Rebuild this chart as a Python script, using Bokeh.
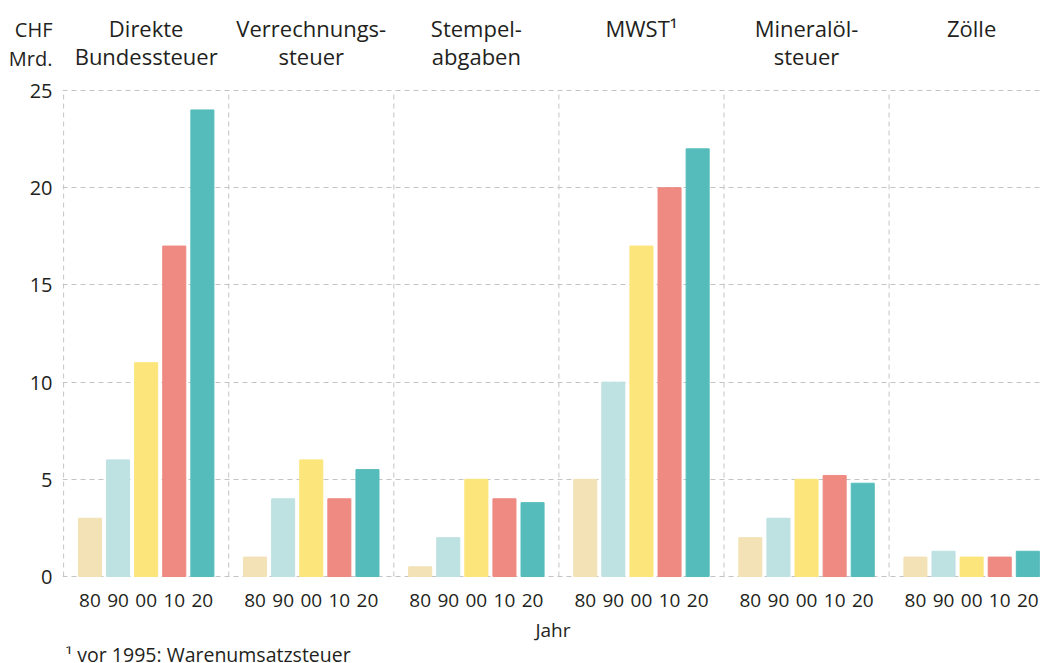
from bokeh.plotting import figure
from bokeh.layouts import column
from bokeh.models import ColumnDataSource, Range1d, FixedTicker
from bokeh.core.properties import value
from bokeh.embed import file_html
from bokeh.resources import INLINE

# ---------------- data ----------------
title_line1 = ["Direkte", "Verrechnungs-", "Stempel-", "MWST¹", "Mineralöl-", "Zölle"]
title_line2 = ["Bundessteuer", "steuer", "abgaben", "", "steuer", ""]
years = ["80", "90", "00", "10", "20"]
direkte = [3, 6, 11, 17, 24]
verrechnung = [1, 4, 6, 4, 5.5]
stempel = [0.5, 2, 5, 4, 3.8]
mwst = [5, 10, 17, 20, 22]
mineraloel = [2, 3, 5, 5.2, 4.8]
zoelle = [1, 1.3, 1, 1, 1.3]
y_ticks = [0, 5, 10, 15, 20, 25]
unit_label = ["CHF", "Mrd."]
x_label = "Jahr"
footnote = "¹ vor 1995: Warenumsatzsteuer"
year_colors = ["#F2E2B6", "#BEE1E2", "#FCE57A", "#EE8A82", "#55BCBB"]

series = [direkte, verrechnung, stempel, mwst, mineraloel, zoelle]

# ---------------- layout constants ----------------
FONT = "Open Sans"
TXT = "#231f20"
PANEL = 5.875          # width of one panel in bar-step units
BAR_W = 0.82
GRID = "#c4c4c4"
W = 1043
LEFT = 62               # px left of plotting frame
MAIN_H = 646            # main figure height (page px 0..646)
FRAME_BOTTOM = 577      # page px of frame bottom
BOT_H = 663 - MAIN_H    # footnote strip height
X0, X1 = -0.04, 34.87   # x range of the frame
UPX = (X1 - X0) / (W - LEFT)   # data units per pixel (x)
PXU = 19.44             # pixels per y unit
Y0 = -0.05
Y1 = Y0 + FRAME_BOTTOM / PXU
TITLE_SHIFT = 9.5       # rendering offset of alphabetic baseline (22px)


def page_y(py):
    """data y for a page pixel row inside the main figure"""
    return Y0 + (FRAME_BOTTOM - py) / PXU


xs, tops, cols, labels = [], [], [], []
for i, vals in enumerate(series):
    center = i * PANEL + PANEL / 2
    for j, v in enumerate(vals):
        xs.append(center + (j - 2))
        tops.append(v)
        cols.append(year_colors[j])
        labels.append(years[j])

src = ColumnDataSource(dict(x=xs, top=tops, color=cols, year=labels))

# ---------------- main chart ----------------
p = figure(width=W, height=MAIN_H, output_backend="svg", toolbar_location=None,
           title=None, x_range=Range1d(X0, X1), y_range=Range1d(Y0, Y1),
           min_border_left=LEFT, min_border_right=0, min_border_top=0,
           min_border_bottom=MAIN_H - FRAME_BOTTOM)
p.outline_line_color = None

p.vbar(x="x", top="top", bottom=0, width=BAR_W, color="color", source=src)

# grids: horizontal dashed lines, vertical dashed panel separators (0..25 only)
p.ygrid.ticker = FixedTicker(ticks=y_ticks)
p.ygrid.grid_line_color = GRID
p.ygrid.grid_line_dash = "5 4"
p.xgrid.visible = False
bounds = [i * PANEL for i in range(len(series))]
p.segment(x0=bounds, y0=[y_ticks[0]] * len(bounds), x1=bounds,
          y1=[y_ticks[-1]] * len(bounds), line_color=GRID, line_dash="5 4",
          line_width=1)

# y axis (numbers + unit label "CHF / Mrd." above them)
y_unit = [round(page_y(29.5), 3), round(page_y(57.8), 3)]
p.yaxis.ticker = FixedTicker(ticks=y_ticks + y_unit)
p.yaxis.major_label_overrides = {y_unit[0]: unit_label[0], y_unit[1]: unit_label[1]}
p.yaxis.axis_line_color = None
p.yaxis.major_tick_line_color = None
p.yaxis.minor_tick_line_color = None
p.yaxis.major_label_text_font = FONT
p.yaxis.major_label_text_font_size = "20px"
p.yaxis.major_label_text_color = TXT
p.yaxis.major_label_standoff = 4

# x axis
p.xaxis.ticker = FixedTicker(ticks=xs)
p.xaxis.major_label_overrides = {x: l for x, l in zip(xs, labels)}
p.xaxis.axis_line_color = None
p.xaxis.major_tick_line_color = None
p.xaxis.minor_tick_line_color = None
p.xaxis.major_label_text_font = FONT
p.xaxis.major_label_text_font_size = "19px"
p.xaxis.major_label_text_color = TXT
p.xaxis.major_label_standoff = 10
p.xaxis.axis_label = x_label
p.xaxis.axis_label_text_font = FONT
p.xaxis.axis_label_text_font_size = "19px"
p.xaxis.axis_label_text_font_style = "normal"
p.xaxis.axis_label_text_color = TXT
p.xaxis.axis_label_standoff = 7

# panel titles
centers = [i * PANEL + PANEL / 2 for i in range(len(series))]
p.text(x=centers, y=[page_y(36.7 - TITLE_SHIFT)] * len(centers), text=title_line1,
       text_font=value(FONT), text_font_size="22px", text_color=TXT,
       text_align="center", text_baseline="alphabetic")
p.text(x=centers, y=[page_y(65.0 - TITLE_SHIFT)] * len(centers), text=title_line2,
       text_font=value(FONT), text_font_size="22px", text_color=TXT,
       text_align="center", text_baseline="alphabetic")

# ---------------- footnote strip ----------------
bot = figure(width=W, height=BOT_H, output_backend="svg", toolbar_location=None,
             title=None, x_range=Range1d(X0, X1), y_range=Range1d(663, MAIN_H),
             x_axis_location=None, y_axis_location=None,
             min_border_left=LEFT, min_border_right=0, min_border_top=0,
             min_border_bottom=0)
bot.grid.visible = False
bot.outline_line_color = None
bot.text(x=[X0 + 3 * UPX], y=[662 - 8.4], text=[footnote],
         text_font=value(FONT), text_font_size="19.5px", text_color=TXT,
         text_align="left", text_baseline="alphabetic")

layout = column(p, bot, spacing=0)
open("out.html", "w").write(file_html(layout, INLINE))
